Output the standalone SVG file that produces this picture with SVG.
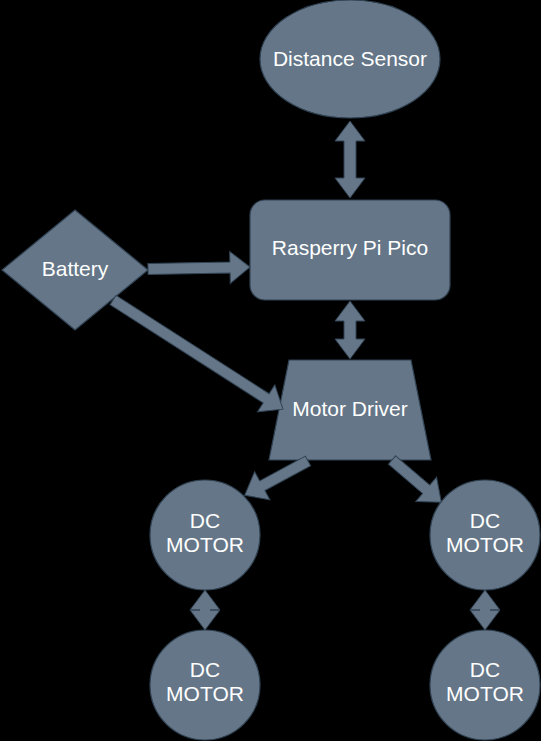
<svg xmlns="http://www.w3.org/2000/svg" width="541" height="741" viewBox="0 0 541 741">
  <style>
    .node { fill: #647687; stroke: #314354; stroke-width: 1.2; }
    .edge { fill: #647687; stroke: #314354; stroke-width: 1; stroke-linejoin: miter; }
    .label { fill: #ffffff; font-family: "Liberation Sans", Arial, sans-serif; font-size: 21px; text-anchor: middle; }
  </style>
  <defs>
    <!-- unit arrow shapes are written explicitly per connector -->
  </defs>
  <rect x="0" y="0" width="541" height="741" fill="#000000"/>

  <g id="nodes">
    <g id="distance-sensor">
      <ellipse class="node" cx="350" cy="59" rx="90" ry="59"/>
      <text class="label" x="350" y="66">Distance Sensor</text>
    </g>
    <g id="pico">
      <rect class="node" x="250" y="200" width="200" height="100" rx="15" ry="15"/>
      <text class="label" x="350" y="255">Rasperry Pi Pico</text>
    </g>
    <g id="battery">
      <polygon class="node" points="75,210 148,270 75,330 2,270"/>
      <text class="label" x="75" y="276">Battery</text>
    </g>
    <g id="motor-driver">
      <polygon class="node" points="289,360 411,360 431,460 269,460"/>
      <text class="label" x="350" y="416">Motor Driver</text>
    </g>
    <g id="dc-motor-1">
      <circle class="node" cx="205" cy="535" r="55"/>
      <text class="label" x="205" y="528">DC</text>
      <text class="label" x="205" y="552">MOTOR</text>
    </g>
    <g id="dc-motor-2">
      <circle class="node" cx="485" cy="535" r="55"/>
      <text class="label" x="485" y="528">DC</text>
      <text class="label" x="485" y="552">MOTOR</text>
    </g>
    <g id="dc-motor-3">
      <circle class="node" cx="205" cy="685" r="55"/>
      <text class="label" x="205" y="677">DC</text>
      <text class="label" x="205" y="701">MOTOR</text>
    </g>
    <g id="dc-motor-4">
      <circle class="node" cx="485" cy="685" r="55"/>
      <text class="label" x="485" y="677">DC</text>
      <text class="label" x="485" y="701">MOTOR</text>
    </g>
  </g>

  <g id="connectors">
    <!-- Distance Sensor <-> Pico -->
    <path class="edge" d="M350,121 L365,141 L356,141 L356,178 L365,178 L350,198 L335,178 L344,178 L344,141 L335,141 Z"/>
    <!-- Pico <-> Motor Driver -->
    <path class="edge" d="M350,301 L365,321 L356,321 L356,339 L365,339 L350,359 L335,339 L344,339 L344,321 L335,321 Z"/>
    <!-- Battery -> Pico -->
    <path class="edge" transform="translate(148,269) rotate(-1.11)" d="M0,-5.5 L82,-5.5 L82,-16 L102,0 L82,16 L82,5.5 L0,5.5 Z"/>
    <!-- Battery -> Motor Driver -->
    <path class="edge" transform="translate(113,300) rotate(32.7)" d="M0,-5.5 L182,-5.5 L182,-16 L202,0 L182,16 L182,5.5 L0,5.5 Z"/>
    <!-- Motor Driver -> DC Motor 1 -->
    <path class="edge" transform="translate(308,461) rotate(151.6)" d="M0,-5.5 L52,-5.5 L52,-16 L72,0 L52,16 L52,5.5 L0,5.5 Z"/>
    <!-- Motor Driver -> DC Motor 2 -->
    <path class="edge" transform="translate(392,460) rotate(40.6)" d="M0,-5.5 L45,-5.5 L45,-16 L65,0 L45,16 L45,5.5 L0,5.5 Z"/>
    <!-- DC Motor 1 <-> DC Motor 3 -->
    <path class="edge" d="M205,590 L220,610 L210,610 L210,610 L220,610 L205,630 L190,610 L200,610 L200,610 L190,610 Z"/>
    <!-- DC Motor 2 <-> DC Motor 4 -->
    <path class="edge" d="M485,590 L500,610 L490,610 L490,610 L500,610 L485,630 L470,610 L480,610 L480,610 L470,610 Z"/>
  </g>
</svg>
